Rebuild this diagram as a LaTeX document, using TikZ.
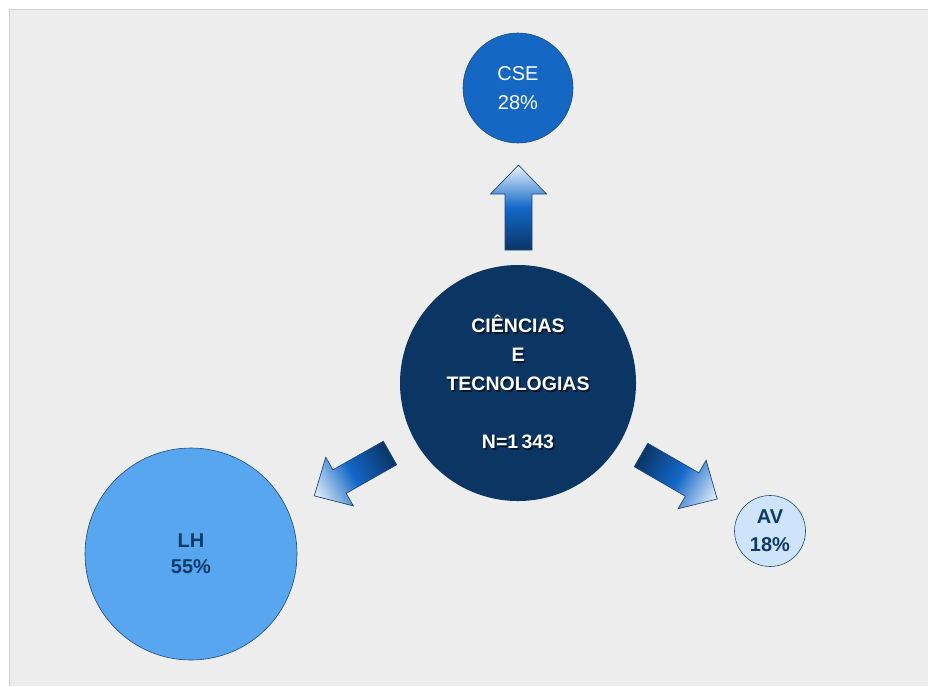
\documentclass[tikz,border=0pt]{standalone}
\usepackage{fontspec}
\setmainfont{Liberation Sans}
\definecolor{panelbg}{HTML}{EDEDED}
\definecolor{panelline}{HTML}{CFCFCF}
\definecolor{csefill}{HTML}{1468C4}
\definecolor{ctfill}{HTML}{0B3563}
\definecolor{lhfill}{HTML}{58A6F0}
\definecolor{avfill}{HTML}{CDE4FA}
\definecolor{txtdark}{HTML}{0D3B69}
\definecolor{rimdark}{HTML}{1F4A75}
\definecolor{arrdark}{HTML}{0A3466}
\definecolor{arrmid}{HTML}{1468C8}
\definecolor{arrlight}{HTML}{EAF3FD}
\definecolor{shadowcol}{HTML}{04162B}
\tikzset{
  bubble/.style={circle, draw=rimdark, line width=0.6pt, inner sep=0pt, align=center},
  bigarrow/.style={draw=rimdark, line width=0.7pt, left color=arrdark, right color=arrlight, middle color=arrmid},
}
\newcommand\blockarrow[3]{%
  \path[bigarrow, transform canvas={shift={#1}, rotate=#2}]
    (0,13.5) -- (#3-29,13.5) -- (#3-29,28) -- (#3,0) -- (#3-29,-28) -- (#3-29,-13.5) -- (0,-13.5) -- cycle;}
\newcommand\shd[1]{\makebox[0pt][l]{\hspace{1.6pt}\raisebox{-1.8pt}{\textcolor{shadowcol}{#1}}}#1}
\begin{document}
\begin{tikzpicture}[x=1pt,y=1pt]
\path[use as bounding box, fill=white] (0,0) rectangle (928,-686);
\fill[panelbg] (9,-9) rectangle (928,-686);
\draw[panelline, line width=1.2pt] (9.5,-686) -- (9.5,-9.5) -- (928,-9.5);
% arrows
\blockarrow{(518.5,-250)}{90}{85}
\blockarrow{(390,-453)}{209.5}{87}
\blockarrow{(641,-455)}{-30}{88}
% circles
\node[bubble, fill=csefill, minimum size=110pt, text=white,
      font=\fontsize{20}{29}\selectfont] (cse) at (518,-88) {CSE\\28\%};
\node[circle, inner sep=0pt, fill=ctfill, minimum size=236pt, text=white, align=center,
      font=\bfseries\fontsize{19.5}{29}\selectfont] (ct) at (518,-383)
      {\shd{CIÊNCIAS}\\\shd{E}\\\shd{TECNOLOGIAS}\\[29pt]\shd{N=1\,343}};
\node[bubble, fill=lhfill, minimum size=212pt, text=txtdark,
      font=\bfseries\fontsize{20}{26}\selectfont] (lh) at (191,-554) {LH\\55\%};
\node[bubble, fill=avfill, minimum size=71pt, text=txtdark,
      font=\bfseries\fontsize{20}{28}\selectfont] (av) at (770,-531) {AV\\18\%};
\end{tikzpicture}
\end{document}
